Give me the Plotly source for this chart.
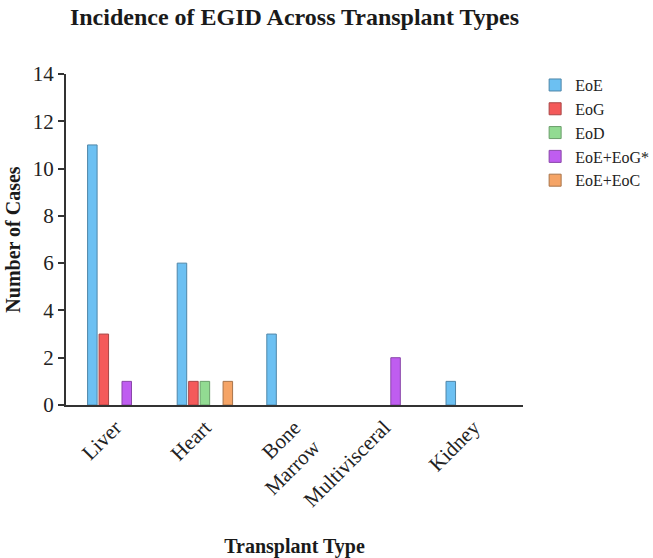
import plotly.graph_objects as go

categories = ["Liver", "Heart", "Bone<br>Marrow", "Multivisceral", "Kidney"]
series_names = ["EoE", "EoG", "EoD", "EoE+EoG*", "EoE+EoC"]
eoe = [11, 6, 3, 0, 1]
eog = [3, 1, 0, 0, 0]
eod = [0, 1, 0, 0, 0]
eoe_eog = [1, 0, 0, 2, 0]
eoe_eoc = [0, 1, 0, 0, 0]
series_values = [eoe, eog, eod, eoe_eog, eoe_eoc]
fill_colors = ["#6CC0F2", "#F45A5A", "#92DB92", "#BF5DF0", "#F5A466"]
line_colors = ["#4F86A8", "#A84545", "#6A9E6A", "#8A47AA", "#A8744A"]

font_family = "Liberation Serif"

fig = go.Figure()
for name, vals, fc, lc in zip(series_names, series_values, fill_colors, line_colors):
    fig.add_trace(go.Bar(
        x=categories, y=[v if v != 0 else None for v in vals], name=name,
        marker=dict(color=fc, line=dict(color=lc, width=1)),
    ))

fig.update_layout(
    width=653, height=558,
    margin=dict(l=66, r=130, t=74, b=153),
    paper_bgcolor="white", plot_bgcolor="white",
    barmode="group", bargap=0.36, bargroupgap=0.17,
    font=dict(family=font_family, color="#222222"),
    title=dict(text="<b>Incidence of EGID Across Transplant Types</b>",
               font=dict(size=24, family=font_family, color="#1a1a1a"),
               x=0.5, xref="paper", xanchor="center", y=0.97, yanchor="middle"),
    legend=dict(xref="container", yref="container", x=0.8195, y=0.878,
                xanchor="left", yanchor="top",
                font=dict(size=16, family=font_family, color="#222222"),
                itemwidth=30),
    showlegend=True,
)
fig.update_xaxes(
    showline=True, linecolor="#333333", linewidth=2, automargin=False,
    ticks="", tickangle=-45, tickfont=dict(size=21, family=font_family, color="#222222"),
    title=dict(text="<b>Transplant Type</b>", font=dict(size=20, family=font_family, color="#1a1a1a"), standoff=37),
    range=[-0.55, 4.55], showgrid=False,
)
fig.update_yaxes(
    showline=True, linecolor="#333333", linewidth=2, automargin=False,
    ticks="outside", ticklen=6, tickwidth=1.5, tickcolor="#333333",
    range=[0, 14], dtick=2, showgrid=False, zeroline=False,
    tickfont=dict(size=21, family=font_family, color="#222222"),
    title=dict(text="<b>Number of Cases</b>", font=dict(size=20, family=font_family, color="#1a1a1a"), standoff=7),
)

fig.write_html("out.html")
